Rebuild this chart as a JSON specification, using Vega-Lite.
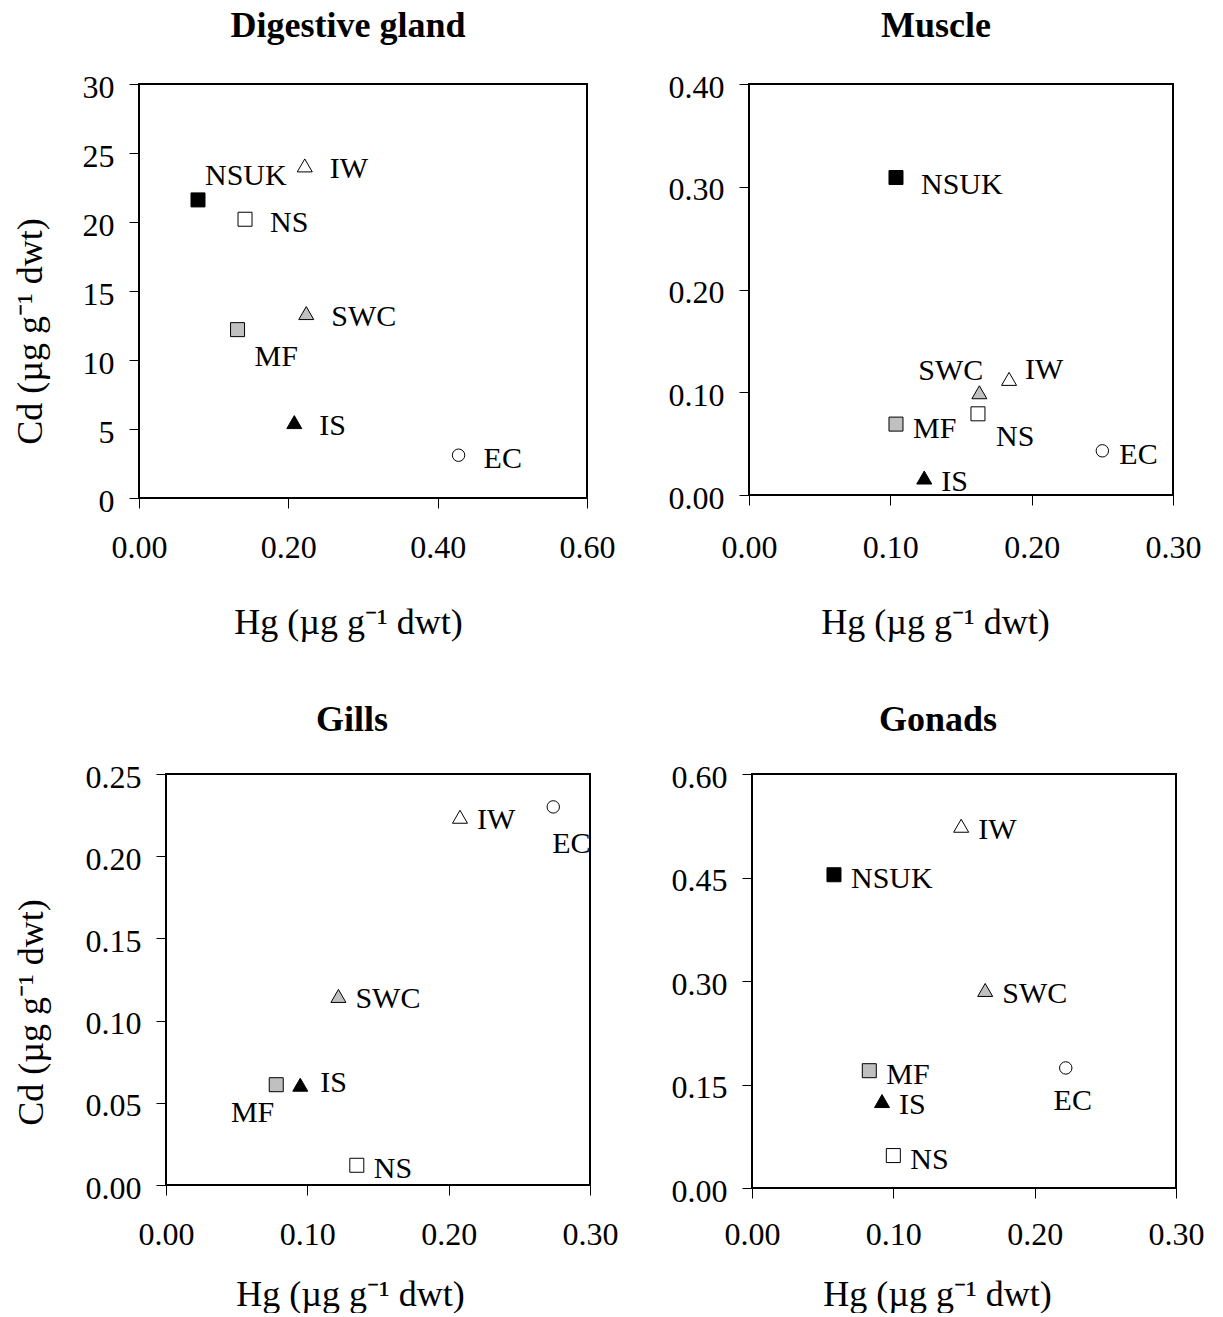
{
  "$schema": "https://vega.github.io/schema/vega-lite/v6.json",
  "padding": {"left": 10, "top": 7, "right": 0, "bottom": 0},
  "background": "white",
  "data": {"values": [
    {"organ": "Digestive gland", "site": "NSUK", "Hg": 0.079, "Cd": 21.6},
    {"organ": "Digestive gland", "site": "IW", "Hg": 0.222, "Cd": 24.1},
    {"organ": "Digestive gland", "site": "NS", "Hg": 0.142, "Cd": 20.2},
    {"organ": "Digestive gland", "site": "SWC", "Hg": 0.224, "Cd": 13.4},
    {"organ": "Digestive gland", "site": "MF", "Hg": 0.132, "Cd": 12.2},
    {"organ": "Digestive gland", "site": "IS", "Hg": 0.208, "Cd": 5.5},
    {"organ": "Digestive gland", "site": "EC", "Hg": 0.428, "Cd": 3.1},
    {"organ": "Muscle", "site": "NSUK", "Hg": 0.104, "Cd": 0.309},
    {"organ": "Muscle", "site": "SWC", "Hg": 0.163, "Cd": 0.100},
    {"organ": "Muscle", "site": "IW", "Hg": 0.184, "Cd": 0.113},
    {"organ": "Muscle", "site": "NS", "Hg": 0.162, "Cd": 0.079},
    {"organ": "Muscle", "site": "MF", "Hg": 0.104, "Cd": 0.069},
    {"organ": "Muscle", "site": "EC", "Hg": 0.250, "Cd": 0.043},
    {"organ": "Muscle", "site": "IS", "Hg": 0.124, "Cd": 0.017},
    {"organ": "Gills", "site": "IW", "Hg": 0.208, "Cd": 0.224},
    {"organ": "Gills", "site": "EC", "Hg": 0.274, "Cd": 0.230},
    {"organ": "Gills", "site": "SWC", "Hg": 0.122, "Cd": 0.115},
    {"organ": "Gills", "site": "MF", "Hg": 0.078, "Cd": 0.061},
    {"organ": "Gills", "site": "IS", "Hg": 0.095, "Cd": 0.061},
    {"organ": "Gills", "site": "NS", "Hg": 0.135, "Cd": 0.012},
    {"organ": "Gonads", "site": "IW", "Hg": 0.148, "Cd": 0.525},
    {"organ": "Gonads", "site": "NSUK", "Hg": 0.058, "Cd": 0.454},
    {"organ": "Gonads", "site": "SWC", "Hg": 0.165, "Cd": 0.287},
    {"organ": "Gonads", "site": "MF", "Hg": 0.083, "Cd": 0.170},
    {"organ": "Gonads", "site": "EC", "Hg": 0.222, "Cd": 0.174},
    {"organ": "Gonads", "site": "IS", "Hg": 0.092, "Cd": 0.126},
    {"organ": "Gonads", "site": "NS", "Hg": 0.100, "Cd": 0.047}
  ]},
  "spacing": 60,
  "vconcat": [
    {
      "spacing": 0,
      "hconcat": [
        {"width": 1, "height": 1, "data": {"values": [{}]}, "mark": {"type": "text", "text": ""}, "view": {"stroke": null}},
        {
          "width": 448, "height": 414,
          "title": {"text": "Digestive gland", "dx": -15, "offset": 26},
          "transform": [{"filter": "datum.organ === 'Digestive gland'"}],
          "encoding": {
            "x": {"field": "Hg", "type": "quantitative", "scale": {"domain": [0, 0.6], "nice": false},
                  "axis": {"values": [0, 0.2, 0.4, 0.6], "format": ".2f", "title": "Hg (µg g⁻¹ dwt)", "titleX": 209, "titleY": 135, "labelPadding": 24}},
            "y": {"field": "Cd", "type": "quantitative", "scale": {"domain": [0, 30], "nice": false},
                  "axis": {"values": [0, 5, 10, 15, 20, 25, 30], "format": "d", "title": "Cd (µg g⁻¹ dwt)", "titleX": -98, "titleY": 247}}
          },
          "layer": [
            {
              "mark": {"type": "point", "filled": true, "opacity": 1, "stroke": "black", "strokeWidth": 1},
              "encoding": {
                "shape": {"field": "site", "type": "nominal", "legend": null, "scale": {"domain": ["NSUK", "NS", "MF", "IW", "SWC", "IS", "EC"], "range": ["square", "square", "square", "triangle-up", "triangle-up", "triangle-up", "circle"]}},
                "fill": {"field": "site", "type": "nominal", "legend": null, "scale": {"domain": ["NSUK", "NS", "MF", "IW", "SWC", "IS", "EC"], "range": ["#000000", "#ffffff", "#c0c0c0", "#ffffff", "#c0c0c0", "#000000", "#ffffff"]}},
                "size": {"condition": [{"test": "datum.site === 'EC'", "value": 154}, {"test": "indexof(['IW','SWC','IS'], datum.site) >= 0", "value": 225}], "value": 196}
              }
            },
            {
              "transform": [{"filter": "indexof(['IW','NS','SWC','IS','EC'], datum.site) >= 0"}],
              "mark": {"type": "text", "align": "left", "baseline": "alphabetic", "dx": 25, "dy": 13},
              "encoding": {"text": {"field": "site"}}
            },
            {
              "transform": [{"filter": "datum.site === 'NSUK'"}],
              "mark": {"type": "text", "align": "left", "baseline": "alphabetic", "dx": 7, "dy": -15},
              "encoding": {"text": {"field": "site"}}
            },
            {
              "transform": [{"filter": "datum.site === 'MF'"}],
              "mark": {"type": "text", "align": "left", "baseline": "alphabetic", "dx": 17, "dy": 36},
              "encoding": {"text": {"field": "site"}}
            }
          ]
        },
        {"width": 51, "height": 1, "data": {"values": [{}]}, "mark": {"type": "text", "text": ""}, "view": {"stroke": null}},
        {
          "width": 424, "height": 411,
          "title": {"text": "Muscle", "dx": -25, "offset": 26},
          "transform": [{"filter": "datum.organ === 'Muscle'"}],
          "encoding": {
            "x": {"field": "Hg", "type": "quantitative", "scale": {"domain": [0, 0.3], "nice": false},
                  "axis": {"values": [0, 0.1, 0.2, 0.3], "format": ".2f", "title": "Hg (µg g⁻¹ dwt)", "titleX": 186, "titleY": 138, "labelPadding": 27}},
            "y": {"field": "Cd", "type": "quantitative", "scale": {"domain": [0, 0.4], "nice": false},
                  "axis": {"values": [0, 0.1, 0.2, 0.3, 0.4], "format": ".2f", "title": null}}
          },
          "layer": [
            {
              "mark": {"type": "point", "filled": true, "opacity": 1, "stroke": "black", "strokeWidth": 1},
              "encoding": {
                "shape": {"field": "site", "type": "nominal", "legend": null, "scale": {"domain": ["NSUK", "NS", "MF", "IW", "SWC", "IS", "EC"], "range": ["square", "square", "square", "triangle-up", "triangle-up", "triangle-up", "circle"]}},
                "fill": {"field": "site", "type": "nominal", "legend": null, "scale": {"domain": ["NSUK", "NS", "MF", "IW", "SWC", "IS", "EC"], "range": ["#000000", "#ffffff", "#c0c0c0", "#ffffff", "#c0c0c0", "#000000", "#ffffff"]}},
                "size": {"condition": [{"test": "datum.site === 'EC'", "value": 154}, {"test": "indexof(['IW','SWC','IS'], datum.site) >= 0", "value": 225}], "value": 196}
              }
            },
            {
              "transform": [{"filter": "indexof(['MF','EC','IS'], datum.site) >= 0"}],
              "mark": {"type": "text", "align": "left", "baseline": "alphabetic", "dx": 17, "dy": 13.5},
              "encoding": {"text": {"field": "site"}}
            },
            {
              "transform": [{"filter": "datum.site === 'NSUK'"}],
              "mark": {"type": "text", "align": "left", "baseline": "alphabetic", "dx": 25, "dy": 16},
              "encoding": {"text": {"field": "site"}}
            },
            {
              "transform": [{"filter": "datum.site === 'SWC'"}],
              "mark": {"type": "text", "align": "right", "baseline": "alphabetic", "dx": 4, "dy": -12},
              "encoding": {"text": {"field": "site"}}
            },
            {
              "transform": [{"filter": "datum.site === 'IW'"}],
              "mark": {"type": "text", "align": "left", "baseline": "alphabetic", "dx": 16, "dy": 0},
              "encoding": {"text": {"field": "site"}}
            },
            {
              "transform": [{"filter": "datum.site === 'NS'"}],
              "mark": {"type": "text", "align": "left", "baseline": "alphabetic", "dx": 18, "dy": 32},
              "encoding": {"text": {"field": "site"}}
            }
          ]
        }
      ]
    },
    {
      "spacing": 0,
      "hconcat": [
        {"width": 1, "height": 1, "data": {"values": [{}]}, "mark": {"type": "text", "text": ""}, "view": {"stroke": null}},
        {
          "width": 424, "height": 411,
          "title": {"text": "Gills", "dx": -26, "offset": 22},
          "transform": [{"filter": "datum.organ === 'Gills'"}],
          "encoding": {
            "x": {"field": "Hg", "type": "quantitative", "scale": {"domain": [0, 0.3], "nice": false},
                  "axis": {"values": [0, 0.1, 0.2, 0.3], "format": ".2f", "title": "Hg (µg g⁻¹ dwt)", "titleX": 184, "titleY": 120, "labelPadding": 24}},
            "y": {"field": "Cd", "type": "quantitative", "scale": {"domain": [0, 0.25], "nice": false},
                  "axis": {"values": [0, 0.05, 0.1, 0.15, 0.2, 0.25], "format": ".2f", "title": "Cd (µg g⁻¹ dwt)", "titleX": -124, "titleY": 238}}
          },
          "layer": [
            {
              "mark": {"type": "point", "filled": true, "opacity": 1, "stroke": "black", "strokeWidth": 1},
              "encoding": {
                "shape": {"field": "site", "type": "nominal", "legend": null, "scale": {"domain": ["NSUK", "NS", "MF", "IW", "SWC", "IS", "EC"], "range": ["square", "square", "square", "triangle-up", "triangle-up", "triangle-up", "circle"]}},
                "fill": {"field": "site", "type": "nominal", "legend": null, "scale": {"domain": ["NSUK", "NS", "MF", "IW", "SWC", "IS", "EC"], "range": ["#000000", "#ffffff", "#c0c0c0", "#ffffff", "#c0c0c0", "#000000", "#ffffff"]}},
                "size": {"condition": [{"test": "datum.site === 'EC'", "value": 154}, {"test": "indexof(['IW','SWC','IS'], datum.site) >= 0", "value": 225}], "value": 196}
              }
            },
            {
              "transform": [{"filter": "indexof(['IW','SWC','NS'], datum.site) >= 0"}],
              "mark": {"type": "text", "align": "left", "baseline": "alphabetic", "dx": 17, "dy": 12.5},
              "encoding": {"text": {"field": "site"}}
            },
            {
              "transform": [{"filter": "datum.site === 'EC'"}],
              "mark": {"type": "text", "align": "left", "baseline": "alphabetic", "dx": -1, "dy": 46},
              "encoding": {"text": {"field": "site"}}
            },
            {
              "transform": [{"filter": "datum.site === 'MF'"}],
              "mark": {"type": "text", "align": "right", "baseline": "alphabetic", "dx": -2, "dy": 37},
              "encoding": {"text": {"field": "site"}}
            },
            {
              "transform": [{"filter": "datum.site === 'IS'"}],
              "mark": {"type": "text", "align": "left", "baseline": "alphabetic", "dx": 20, "dy": 7},
              "encoding": {"text": {"field": "site"}}
            }
          ]
        },
        {"width": 51, "height": 1, "data": {"values": [{}]}, "mark": {"type": "text", "text": ""}, "view": {"stroke": null}},
        {
          "width": 424, "height": 414,
          "title": {"text": "Gonads", "dx": -26, "offset": 22},
          "transform": [{"filter": "datum.organ === 'Gonads'"}],
          "encoding": {
            "x": {"field": "Hg", "type": "quantitative", "scale": {"domain": [0, 0.3], "nice": false},
                  "axis": {"values": [0, 0.1, 0.2, 0.3], "format": ".2f", "title": "Hg (µg g⁻¹ dwt)", "titleX": 185, "titleY": 117, "labelPadding": 21}},
            "y": {"field": "Cd", "type": "quantitative", "scale": {"domain": [0, 0.6], "nice": false},
                  "axis": {"values": [0, 0.15, 0.3, 0.45, 0.6], "format": ".2f", "title": null}}
          },
          "layer": [
            {
              "mark": {"type": "point", "filled": true, "opacity": 1, "stroke": "black", "strokeWidth": 1},
              "encoding": {
                "shape": {"field": "site", "type": "nominal", "legend": null, "scale": {"domain": ["NSUK", "NS", "MF", "IW", "SWC", "IS", "EC"], "range": ["square", "square", "square", "triangle-up", "triangle-up", "triangle-up", "circle"]}},
                "fill": {"field": "site", "type": "nominal", "legend": null, "scale": {"domain": ["NSUK", "NS", "MF", "IW", "SWC", "IS", "EC"], "range": ["#000000", "#ffffff", "#c0c0c0", "#ffffff", "#c0c0c0", "#000000", "#ffffff"]}},
                "size": {"condition": [{"test": "datum.site === 'EC'", "value": 154}, {"test": "indexof(['IW','SWC','IS'], datum.site) >= 0", "value": 225}], "value": 196}
              }
            },
            {
              "transform": [{"filter": "indexof(['IW','NSUK','SWC','MF','IS','NS'], datum.site) >= 0"}],
              "mark": {"type": "text", "align": "left", "baseline": "alphabetic", "dx": 17, "dy": 13},
              "encoding": {"text": {"field": "site"}}
            },
            {
              "transform": [{"filter": "datum.site === 'EC'"}],
              "mark": {"type": "text", "align": "center", "baseline": "alphabetic", "dx": 7, "dy": 42},
              "encoding": {"text": {"field": "site"}}
            }
          ]
        }
      ]
    }
  ],
  "config": {
    "font": "Liberation Serif",
    "view": {"stroke": "black", "strokeWidth": 2},
    "title": {"font": "Liberation Serif", "fontSize": 36, "fontWeight": "bold", "color": "black", "anchor": "middle", "frame": "group", "baseline": "alphabetic"},
    "text": {"font": "Liberation Serif", "fontSize": 30, "fill": "black"},
    "axis": {
      "domain": false, "grid": false, "ticks": true, "tickColor": "black", "tickWidth": 1, "tickSize": 10,
      "labelFont": "Liberation Serif", "labelFontSize": 32, "labelColor": "black",
      "labelFlush": false, "labelOverlap": false, "labelBound": false,
      "titleFont": "Liberation Serif", "titleFontSize": 36, "titleFontWeight": "normal", "titleColor": "black",
      "titleBaseline": "alphabetic", "titleAlign": "center"
    },
    "axisY": {"labelPadding": 15, "labelBaseline": "alphabetic", "labelOffset": 13}
  }
}
